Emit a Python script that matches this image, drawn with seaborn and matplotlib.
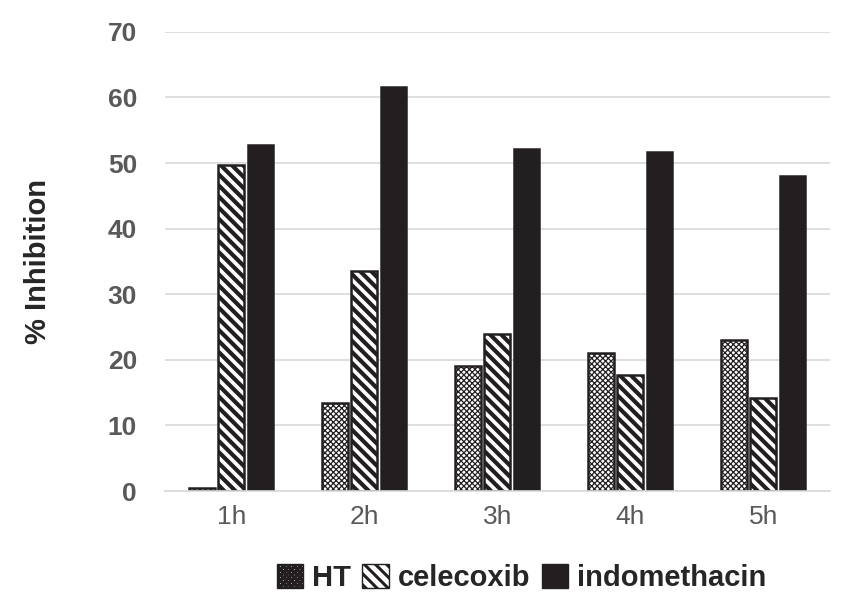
import matplotlib
matplotlib.use("Agg")
import matplotlib.pyplot as plt
import seaborn as sns
import pandas as pd
from matplotlib.patches import Patch

times = ["1h", "2h", "3h", "4h", "5h"]
series = ["HT", "celecoxib", "indomethacin"]
ht = [0.5, 13.4, 19.0, 21.0, 23.0]
celecoxib = [49.7, 33.6, 24.0, 17.7, 14.2]
indomethacin = [52.7, 61.6, 52.2, 51.7, 48.0]

rows = []
for name, vals in zip(series, [ht, celecoxib, indomethacin]):
    for t, v in zip(times, vals):
        rows.append({"time": t, "drug": name, "value": v})
df = pd.DataFrame(rows)

sns.set_theme(style="white")
plt.rcParams["font.family"] = ["Liberation Sans", "DejaVu Sans"]
plt.rcParams["hatch.linewidth"] = 2.2

fig = plt.figure(figsize=(8.45, 6.01), dpi=100)
ax = fig.add_axes([0.195, 0.183, 0.787, 0.764])

hatches = ["xxxxxx", "\\\\\\", ""]
hatch_lw = [0.9, 3.0, 1.0]
fills = ["white", "white", "#231f20"]
sns.barplot(data=df, x="time", y="value", hue="drug", order=times, hue_order=series,
            width=0.66, gap=0.12, palette=fills, edgecolor="#231f20", linewidth=1.8,
            ax=ax, legend=False, errorbar=None)
for cont, h, fc, hl in zip(ax.containers, hatches, fills, hatch_lw):
    for p in cont:
        p.set_hatch(h)
        p.set_facecolor(fc)
        p.set_edgecolor("#231f20")
        try:
            p.set_hatch_linewidth(hl)
        except Exception:
            pass

ax.set_ylim(0, 70)
ax.set_yticks(range(0, 71, 10))
ax.yaxis.grid(True, color="#d9d9d9", linewidth=1.2)
ax.set_axisbelow(True)
for s in ["top", "right", "left"]:
    ax.spines[s].set_visible(False)
ax.spines["bottom"].set_color("#d9d9d9")
ax.spines["bottom"].set_linewidth(1.2)
ax.tick_params(axis="both", length=0)
ax.tick_params(axis="y", pad=20)
ax.tick_params(axis="x", pad=10)
for lbl in ax.get_yticklabels():
    lbl.set_fontsize(19)
    lbl.set_fontweight("bold")
    lbl.set_color("#595959")
for lbl in ax.get_xticklabels():
    lbl.set_fontsize(19)
    lbl.set_color("#595959")
ax.set_xlabel("")
ax.set_ylabel("% Inhibition", fontsize=21, fontweight="bold", color="#262626", labelpad=40)

handles = []
for h, fc, hl in zip(hatches, fills, hatch_lw):
    hp = Patch(facecolor=fc, edgecolor="#231f20", hatch=h, linewidth=1.0)
    try:
        hp.set_hatch_linewidth(hl * 0.7)
    except Exception:
        pass
    handles.append(hp)
fig.legend(handles, series, loc="center", bbox_to_anchor=(0.617, 0.038), ncol=3,
           frameon=False, prop={"size": 21, "weight": "bold"},
           handlelength=0.9, handleheight=0.9, handletextpad=0.3, columnspacing=0.4)

fig.savefig("out.png", dpi=100)
